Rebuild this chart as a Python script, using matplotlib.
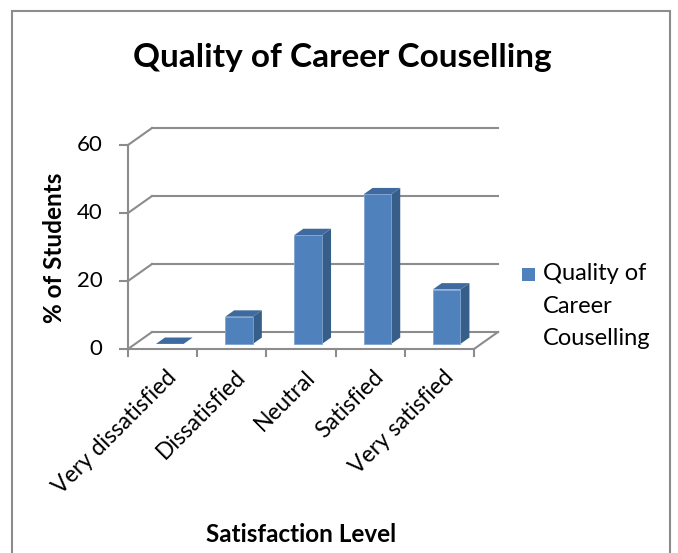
import matplotlib
matplotlib.use("Agg")
import matplotlib.pyplot as plt
from matplotlib.patches import Polygon, Rectangle

plt.rcParams['font.family'] = ['Lato', 'DejaVu Sans']

categories = ["Very dissatisfied", "Dissatisfied", "Neutral", "Satisfied", "Very satisfied"]
values = [0, 8, 32, 44, 16]
yticks = [0, 20, 40, 60]
series_name = "Quality of\nCareer\nCouselling"

front = "#4f81bd"
top = "#3e6a9f"
side = "#375d89"
grey = "#8c8c8c"

# oblique depth offset (category units, value units)
DX, DY = 0.347, 5.0
n = len(categories)

fig = plt.figure(figsize=(6.78, 5.53), dpi=100)
ax = fig.add_axes([128 / 678, 1 - 349 / 553, 346 / 678, 204 / 553])
ax.set_xlim(-0.5, n - 0.5)
ax.set_ylim(0, 60)
ax.axis("off")

# chart border
fig.add_artist(Rectangle((12 / 678, -0.05), (670 - 12) / 678, 1.05 - 11 / 553,
                         transform=fig.transFigure, fill=False, ec="#8c8c8c", lw=1.5))

lw = 1.5
x0, x1 = -0.5, n - 0.5
# back wall gridlines + side wall diagonals
for v in yticks:
    ax.plot([x0 + DX, x1 + DX], [v + DY, v + DY], color=grey, lw=lw, clip_on=False, zorder=1)
    ax.plot([x0, x0 + DX], [v, v + DY], color=grey, lw=lw, clip_on=False, zorder=1)
    ax.plot([x0 - 0.11, x0], [v, v], color=grey, lw=lw, clip_on=False, zorder=1)
    ax.text(x0 - 0.37, v, str(v), ha="right", va="center", fontsize=16, clip_on=False)
# floor
ax.plot([x0, x1], [0, 0], color=grey, lw=lw, clip_on=False, zorder=1)
ax.plot([x1, x1 + DX], [0, DY], color=grey, lw=lw, clip_on=False, zorder=1)
# front y axis
ax.plot([x0, x0], [0, 60], color=grey, lw=lw, clip_on=False, zorder=1)
# x ticks
for i in range(n + 1):
    ax.plot([x0 + i, x0 + i], [0, -2.2], color=grey, lw=lw, clip_on=False, zorder=1)

# 3d bars
w, f, bd = 0.4, 0.3, 0.375
for i, v in enumerate(values):
    l = i - w / 2 + f * DX
    r = i + w / 2 + f * DX
    b = f * DY
    ddx, ddy = bd * DX, bd * DY
    ax.add_patch(Polygon([(r, b), (r, b + v), (r + ddx, b + v + ddy), (r + ddx, b + ddy)],
                         closed=True, fc=side, ec="none", zorder=3, clip_on=False))
    ax.add_patch(Polygon([(l, b + v), (r, b + v), (r + ddx, b + v + ddy), (l + ddx, b + v + ddy)],
                         closed=True, fc=top, ec="none", zorder=3, clip_on=False))
    if v > 0:
        ax.add_patch(Rectangle((l, b), w, v, fc=front, ec="#7fa3d0", lw=0.6, zorder=4, clip_on=False))

# category labels
for i, c in enumerate(categories):
    ax.text(i + 0.15, -7.3, c, rotation=45, rotation_mode="anchor", ha="right", va="center",
            fontsize=16.5, clip_on=False)

fig.text(342 / 678, 1 - 57 / 553, "Quality of Career Couselling", ha="center", va="center",
         fontsize=24, fontweight="bold")
fig.text(301 / 678, 1 - 535 / 553, "Satisfaction Level", ha="center", va="center",
         fontsize=17.5, fontweight="bold")
fig.text(55 / 678, 1 - 248 / 553, "% of Students", ha="center", va="center",
         fontsize=17.5, fontweight="bold", rotation=90)

# legend
fig.add_artist(Rectangle((522 / 678, 1 - 281 / 553), 13 / 678, 13 / 553,
                         transform=fig.transFigure, fc=front, ec="none"))
fig.text(543 / 678, 1 - 263 / 553, series_name, ha="left", va="top", fontsize=17,
         linespacing=1.68)

fig.savefig("out.png", dpi=100)
